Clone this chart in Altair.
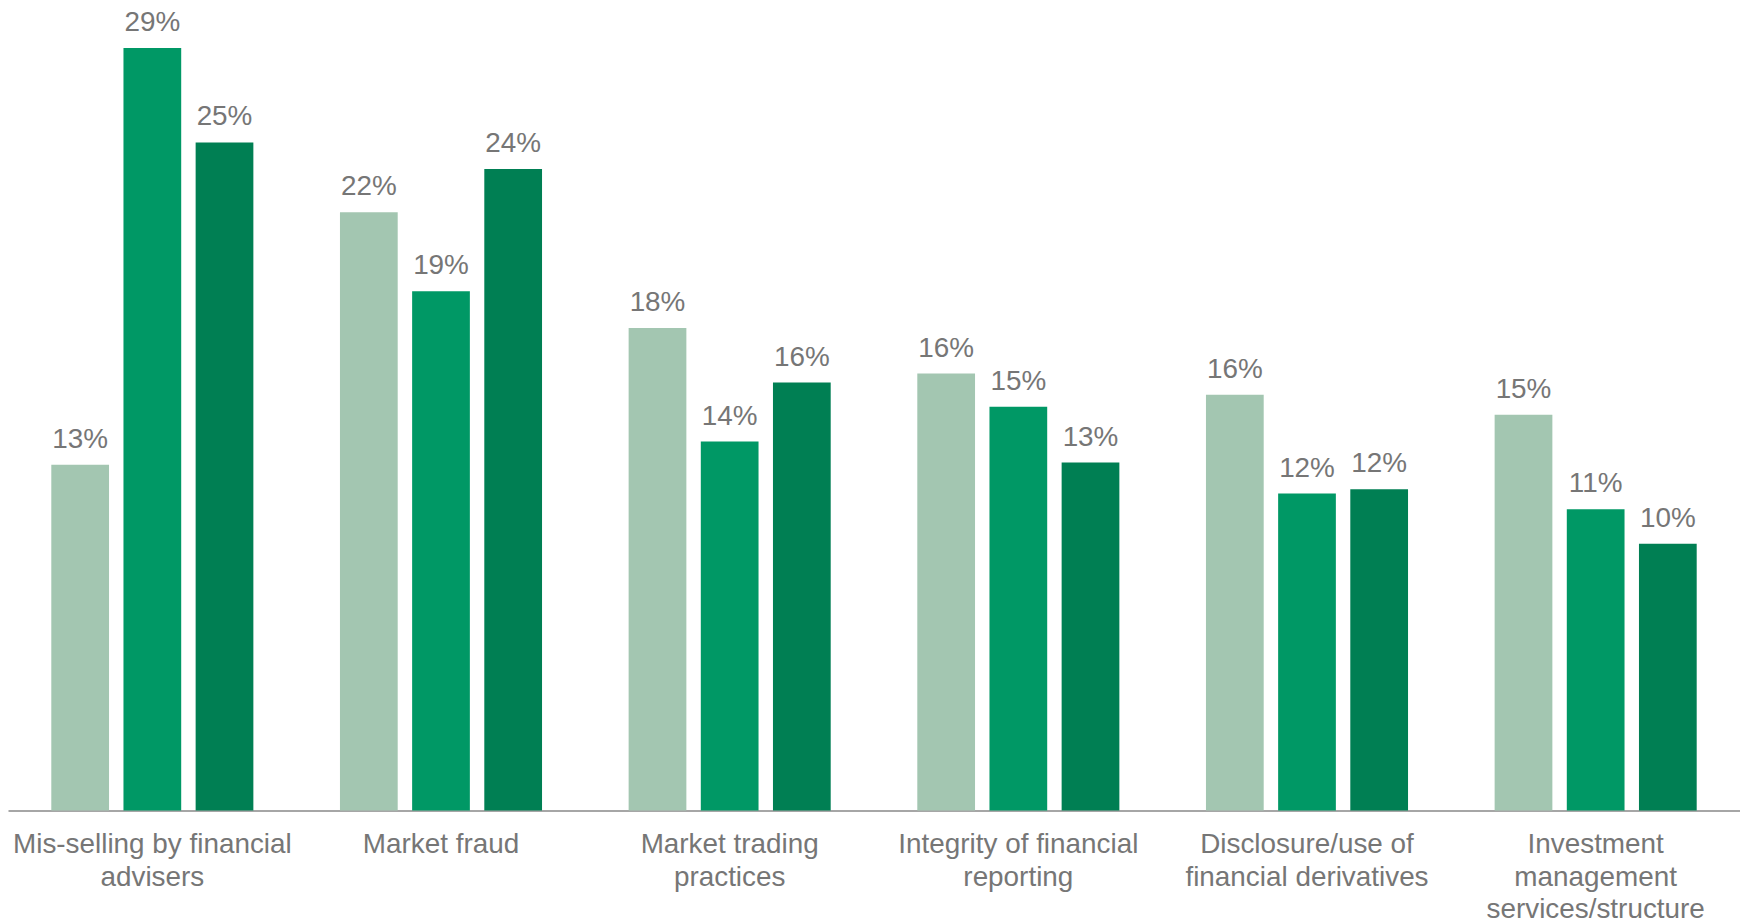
import altair as alt
import pandas as pd

categories = [
    "Mis-selling by financial advisers",
    "Market fraud",
    "Market trading practices",
    "Integrity of financial reporting",
    "Disclosure/use of financial derivatives",
    "Investment management services/structure",
]
label_lines = [
    ["Mis-selling by financial", "advisers"],
    ["Market fraud"],
    ["Market trading", "practices"],
    ["Integrity of financial", "reporting"],
    ["Disclosure/use of", "financial derivatives"],
    ["Investment", "management", "services/structure"],
]
series = ["Series 1", "Series 2", "Series 3"]
colors = ["#A3C6B1", "#009865", "#007F53"]

s1 = [12.96, 22.42, 18.08, 16.38, 15.58, 14.83]
s2 = [28.58, 19.46, 13.83, 15.13, 11.88, 11.29]
s3 = [25.04, 24.04, 16.04, 13.04, 12.04, 10.0]

rows = []
for name, vals in zip(series, [s1, s2, s3]):
    for cat, v in zip(categories, vals):
        rows.append({"category": cat, "series": name, "value": v})
df = pd.DataFrame(rows)

# build multi-line label expression
expr = "datum.label"
for cat, lines in reversed(list(zip(categories, label_lines))):
    arr = "[" + ",".join("'" + l + "'" for l in lines) + "]"
    expr = f"datum.label == '{cat}' ? {arr} : ({expr})"

FONT = "Liberation Sans"
GRAY = "#767676"

base = alt.Chart(df).transform_calculate(
    label="format(datum.value, '.0f') + '%'"
).encode(
    x=alt.X(
        "category:N",
        sort=categories,
        scale=alt.Scale(paddingInner=0, paddingOuter=0),
        axis=alt.Axis(
            title=None,
            labelAngle=0,
            ticks=False,
            labelPadding=20,
            labelFontSize=28,
            labelFont=FONT,
            labelColor=GRAY,
            labelLineHeight=33,
            labelLimit=500,
            domainColor="#A6A6A6",
            domainWidth=2,
            labelExpr=expr,
        ),
    ),
    xOffset=alt.XOffset(
        "series:N", sort=series, scale=alt.Scale(paddingInner=0.2, paddingOuter=0.6)
    ),
    y=alt.Y("value:Q", scale=alt.Scale(domain=[0, 30], nice=False), axis=None),
)

bars = base.mark_bar().encode(
    color=alt.Color(
        "series:N", sort=series, scale=alt.Scale(domain=series, range=colors), legend=None
    )
)

text = base.mark_text(
    baseline="alphabetic", dy=-17, fontSize=28, font=FONT, color=GRAY
).encode(text="label:N")

chart = (
    alt.layer(bars, text)
    .properties(
        width=1740,
        height=804,
        padding={"left": 0, "top": 0, "right": 0, "bottom": 108},
        autosize=alt.AutoSizeParams(type="none"),
        background="white",
    )
    .configure_view(stroke=None)
)

chart.save("out.html", embed_options={"renderer": "svg", "actions": False})
